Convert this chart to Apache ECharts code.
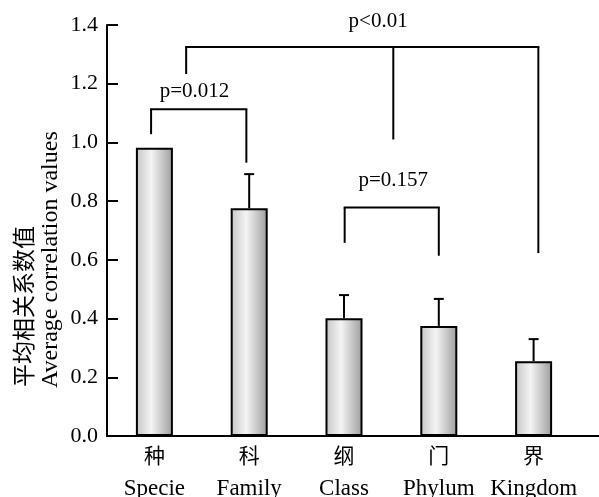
<!DOCTYPE html>
<html>
<head>
<meta charset="utf-8">
<script src="https://cdn.jsdelivr.net/npm/echarts@6/dist/echarts.min.js"></script>
<style>
html,body{margin:0;padding:0;background:#fff;}
#c{width:599px;height:497px;}
</style>
</head>
<body>
<div id="c"></div>
<script>
// ---- data ----
var categoriesCn = ['种', '科', '纲', '门', '界'];
var categoriesEn = ['Specie', 'Family', 'Class', 'Phylum', 'Kingdom'];
var values = [0.982, 0.776, 0.401, 0.375, 0.255];
var errors = [0, 0.116, 0.079, 0.092, 0.075];
var yMin = 0, yMax = 1.4, yInterval = 0.2;
// significance brackets (x in category index units, y in value units)
var bracketLabels = ['p=0.012', 'p<0.01', 'p=0.157'];
var bracketY = [1.113, 1.325, 0.778];
var bracketLegX = [[-0.035, 0.97], [0.335, 2.52, 4.05], [2.007, 3.0]];
var bracketLegBottom = [[1.028, 0.931], [1.233, 1.01, 0.623], [0.658, 0.614]];
var bracketLabelX = [0.423, 2.36, 2.52];
var bracketLabelY = [1.172, 1.413, 0.872];
var yTitleCn = '平均相关系数值';
var yTitleEn = 'Average correlation values';

var SERIF = '"Liberation Serif","Times New Roman",serif';
var CJK = '"Noto Sans CJK SC","Noto Sans CJK JP",sans-serif';

var chart = echarts.init(document.getElementById('c'), null, {renderer: 'canvas'});
var gridLeft = 107, gridRight = 18, gridTop = 25, gridBottom = 61;

var option = {
  animation: false,
  backgroundColor: '#fff',
  grid: {left: gridLeft, right: gridRight, top: gridTop, bottom: gridBottom,
         containLabel: false, outerBoundsMode: 'none'},
  xAxis: [{
    type: 'category',
    data: categoriesEn,
    axisLine: {lineStyle: {color: '#000', width: 2}},
    axisTick: {inside: true, length: 6, lineStyle: {color: '#000', width: 1.5}},
    axisLabel: {
      interval: 0,
      margin: 4,
      formatter: function (v, i) { return '{cn|' + categoriesCn[i] + '}\n{en|' + v + '}'; },
      rich: {
        cn: {fontFamily: CJK, fontSize: 21, color: '#000', lineHeight: 30},
        en: {fontFamily: SERIF, fontSize: 23, color: '#000', lineHeight: 38}
      }
    }
  }, {
    type: 'value', min: -0.5, max: 4.5, show: false
  }],
  yAxis: {
    type: 'value', min: yMin, max: yMax, interval: yInterval,
    splitLine: {show: false},
    axisLine: {show: true, onZero: false, lineStyle: {color: '#000', width: 2}},
    axisTick: {show: true, inside: true, length: 11, lineStyle: {color: '#000', width: 2}},
    axisLabel: {
      margin: 9, color: '#000', fontFamily: SERIF, fontSize: 22,
      formatter: function (v) { return v.toFixed(1); }
    }
  },
  series: [{
    type: 'bar',
    data: values,
    barWidth: 37,
    itemStyle: {
      borderColor: '#000', borderWidth: 2,
      color: new echarts.graphic.LinearGradient(0, 0, 1, 0, [
        {offset: 0, color: '#c6c6c6'},
        {offset: 0.42, color: '#f4f4f4'},
        {offset: 1, color: '#9c9c9c'}
      ])
    }
  }, {
    type: 'custom',
    data: values.map(function (v, i) { return [i, v, v + errors[i]]; }),
    renderItem: function (params, api) {
      var i = api.value(0);
      if (errors[params.dataIndex] <= 0) return null;
      var p0 = api.coord([i, api.value(1)]);
      var p1 = api.coord([i, api.value(2)]);
      var style = {stroke: '#000', lineWidth: 2, fill: null};
      return {type: 'group', children: [
        {type: 'line', shape: {x1: p0[0], y1: p0[1], x2: p1[0], y2: p1[1]}, style: style},
        {type: 'line', shape: {x1: p1[0] - 5, y1: p1[1], x2: p1[0] + 5, y2: p1[1]}, style: style}
      ]};
    },
    z: 5
  }, {
    type: 'custom',
    xAxisIndex: 1,
    clip: false,
    data: bracketLabels.map(function (l, i) { return [bracketLabelX[i], bracketLabelY[i]]; }),
    renderItem: function (params, api) {
      var k = params.dataIndex;
      var legs = bracketLegX[k];
      var style = {stroke: '#000', lineWidth: 2, fill: null};
      var children = [];
      var yTop = bracketY[k];
      var left = api.coord([legs[0], yTop]);
      var right = api.coord([legs[legs.length - 1], yTop]);
      children.push({type: 'line', shape: {x1: left[0] - 1, y1: left[1], x2: right[0] + 1, y2: right[1]}, style: style});
      for (var j = 0; j < legs.length; j++) {
        var a = api.coord([legs[j], yTop]);
        var b = api.coord([legs[j], bracketLegBottom[k][j]]);
        children.push({type: 'line', shape: {x1: a[0], y1: a[1], x2: b[0], y2: b[1]}, style: style});
      }
      var t = api.coord([api.value(0), api.value(1)]);
      children.push({type: 'text', x: t[0], y: t[1], style: {
        text: bracketLabels[k], fill: '#000', font: '21px ' + SERIF,
        textAlign: 'center', textVerticalAlign: 'middle'
      }});
      return {type: 'group', children: children};
    },
    z: 6
  }],
  graphic: [
    {type: 'line', shape: {x1: 599 - gridRight - 1, y1: 497 - gridBottom, x2: 599, y2: 497 - gridBottom},
     style: {stroke: '#000', lineWidth: 2}, z: 10},
    {type: 'text', x: 23, y: 387, rotation: Math.PI / 2,
     style: {text: yTitleCn, fill: '#000', font: '23px ' + CJK, textAlign: 'left', textVerticalAlign: 'middle'}},
    {type: 'text', x: 51, y: 388, rotation: Math.PI / 2,
     style: {text: yTitleEn, fill: '#000', font: '24px ' + SERIF, textAlign: 'left', textVerticalAlign: 'middle'}}
  ]
};
chart.setOption(option);
</script>
</body>
</html>
